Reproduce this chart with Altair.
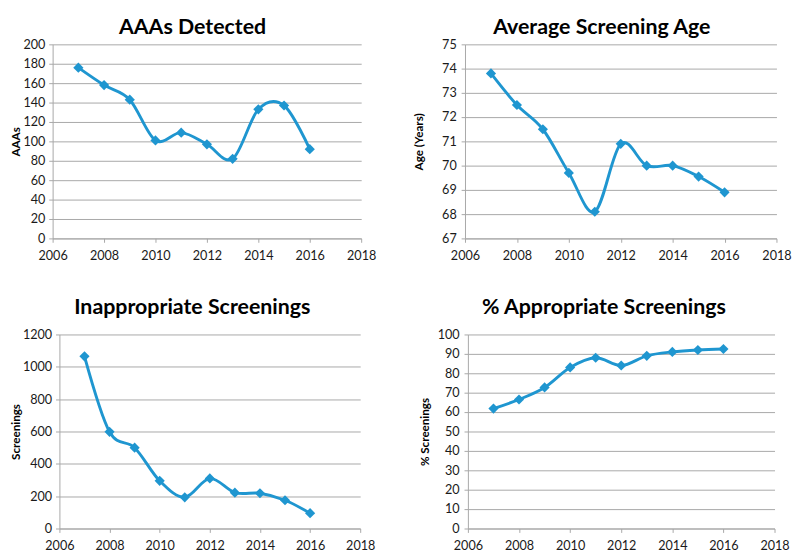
import altair as alt
import pandas as pd

years = [2007, 2008, 2009, 2010, 2011, 2012, 2013, 2014, 2015, 2016]
aaas_detected = [176, 158, 143, 101, 109, 97, 82, 133, 137, 92]
screening_age = [73.8, 72.5, 71.5, 69.7, 68.1, 70.9, 70.0, 70.0, 69.55, 68.9]
inappropriate = [1065, 598, 500, 295, 193, 310, 222, 218, 175, 95]
pct_appropriate = [61.8, 66.5, 72.7, 83.0, 88.0, 84.0, 89.0, 91.0, 92.0, 92.5]

x_ticks = [2006, 2008, 2010, 2012, 2014, 2016, 2018]
y_ticks_aaas = [0, 20, 40, 60, 80, 100, 120, 140, 160, 180, 200]
y_ticks_age = [67, 68, 69, 70, 71, 72, 73, 74, 75]
y_ticks_inapp = [0, 200, 400, 600, 800, 1000, 1200]
y_ticks_pct = [0, 10, 20, 30, 40, 50, 60, 70, 80, 90, 100]

BLUE = "#1f96d0"
GRAY = "#a6a6a6"


def panel(values, title, ytitle, yticks, width, title_pad, label_pad, title_offset):
    df = pd.DataFrame({"Year": years, "Value": values})
    x = alt.X(
        "Year:Q",
        scale=alt.Scale(domain=[x_ticks[0], x_ticks[-1]], nice=False, zero=False),
        axis=alt.Axis(values=x_ticks, format="d", title=None, grid=False,
                      labelPadding=8, labelFlush=False, labelOverlap=False),
    )
    y = alt.Y(
        "Value:Q",
        scale=alt.Scale(domain=[yticks[0], yticks[-1]], nice=False, zero=False),
        axis=alt.Axis(values=yticks, format="d", title=ytitle, grid=True,
                      titlePadding=title_pad, labelPadding=label_pad,
                      labelFlush=False, labelOverlap=False),
    )
    base = alt.Chart(df).encode(x=x, y=y)
    line = base.mark_line(interpolate="cardinal", color=BLUE, strokeWidth=3)
    pts = base.mark_point(shape="diamond", filled=True, size=110, color=BLUE, opacity=1)
    return alt.layer(line, pts).properties(
        width=width, height=200, title=alt.Title(title, offset=title_offset)
    )


def spacer():
    return (
        alt.Chart(pd.DataFrame({"v": [0]}))
        .mark_rule(strokeWidth=0, opacity=0)
        .encode(x=alt.value(0), x2=alt.value(0), y=alt.value(0), y2=alt.value(0))
        .properties(width=1, height=1)
    )


p1 = panel(aaas_detected, "AAAs Detected", "AAAs", y_ticks_aaas, 318, 1, 4, 0)
p2 = panel(screening_age, "Average Screening Age", "Age (Years)", y_ticks_age, 321, 17, 5, 0)
p3 = panel(inappropriate, "Inappropriate Screenings", "Screenings", y_ticks_inapp, 310, 0, 4, 10)
p4 = panel(pct_appropriate, "% Appropriate Screenings", "% Screenings", y_ticks_pct, 316, 6, 5, 10)

chart = (
    alt.concat(spacer(), p1, p2, spacer(), p3, p4, columns=3, align="none",
               spacing={"row": 35, "column": 36})
    .properties(padding={"left": -36, "top": 0, "right": 0, "bottom": 0}, background="white")
    .configure_axis(
        labelFont="Lato",
        labelFontSize=13,
        labelColor="#1a1a1a",
        titleFont="Lato",
        titleFontSize=12,
        titleFontWeight="bold",
        titleColor="#000000",
        domainColor=GRAY,
        tickColor=GRAY,
        gridColor=GRAY,
        tickSize=4,
    )
    .configure_view(stroke=None)
    .configure_title(
        font="Lato",
        fontSize=22,
        fontWeight="bold",
        anchor="middle",
        frame="bounds",
        color="#000000",
    )
)

chart.save("out.html", embed_options={"renderer": "svg", "actions": False})
